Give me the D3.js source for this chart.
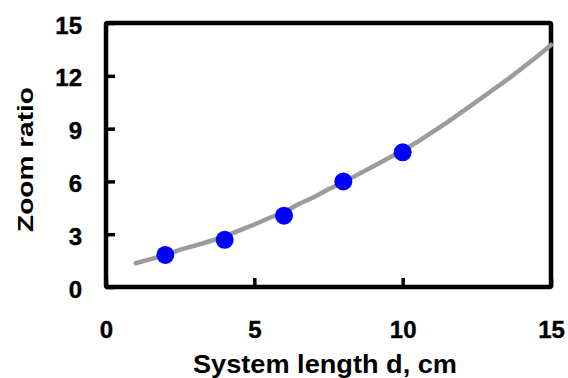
<!DOCTYPE html>
<html lang="en">
    <head>
        <meta charset="utf-8">
        <title>Zoom ratio vs system length</title>
        <script src="https://d3js.org/d3.v7.min.js"></script>
        <style>
            body {
                margin: 0;
                background: white;
            }
            text {
                font-family: Arial, "Liberation Sans", sans-serif;
                font-weight: bold;
                fill: black;
            }
            .axis path {
                display: none;
            }
            .axis line {
                stroke: black;
                stroke-width: 3.5;
            }
            .axis text {
                font-size: 24px;
                stroke: black;
                stroke-width: 0.4;
            }
            .curve {
                fill: none;
                stroke: #9b9b9b;
                stroke-width: 4.5;
                stroke-linejoin: round;
                stroke-linecap: round;
            }
        </style>
    </head>
    <body>
        <div id="chart"></div>
        <script type="text/javascript">
            // measured points (blue dots)
            var pointX = [2, 4, 6, 8, 10];
            var pointY = [1.82, 2.68, 4.05, 6.0, 7.65];

            // fitted curve (grey line)
            var curveX = [1, 1.5, 2, 2.5, 3, 3.5, 4, 4.5, 5, 5.5, 6, 6.5, 7, 7.5, 8, 8.5, 9, 9.5, 10,
                          10.5, 11, 11.5, 12, 12.5, 13, 13.5, 14, 14.5, 15];
            var curveY = [1.35, 1.58, 1.8, 2.12, 2.35, 2.6, 2.88, 3.22, 3.55, 3.92, 4.25, 4.72, 5.1, 5.55, 5.95, 6.4, 6.85, 7.3, 7.75,
                          8.25, 8.8, 9.35, 9.95, 10.55, 11.15, 11.75, 12.4, 13.05, 13.75];

            var xTicks = [0, 5, 10, 15];
            var yTicks = [0, 3, 6, 9, 12, 15];

            var w = 568;
            var h = 378;
            var margin = {top: 23, right: 17, bottom: 91, left: 106};

            var svg = d3.select("#chart").append("svg").attr("width", w).attr("height", h);

            var xScale = d3.scaleLinear().domain([0, 15]).range([margin.left, w - margin.right]);
            var yScale = d3.scaleLinear().domain([0, 15]).range([h - margin.bottom, margin.top]);

            // axes with inward ticks
            var xAxis = d3.axisBottom(xScale).tickValues(xTicks).tickSizeInner(-9).tickSizeOuter(0).tickPadding(34);
            var yAxis = d3.axisLeft(yScale).tickValues(yTicks).tickSizeInner(-9).tickSizeOuter(0).tickPadding(24);

            svg.append("g").attr("class", "axis").attr("transform", "translate(0," + yScale(0) + ")").call(xAxis);
            svg.append("g").attr("class", "axis").attr("transform", "translate(" + xScale(0) + ",0)").call(yAxis)
                .selectAll("text").attr("dy", "0.42em");

            // frame
            svg.append("rect")
                .attr("x", xScale(0)).attr("y", yScale(15))
                .attr("width", xScale(15) - xScale(0)).attr("height", yScale(0) - yScale(15))
                .attr("rx", 1.5)
                .style("fill", "none").style("stroke", "black").style("stroke-width", 4.5);

            // curve
            var line = d3.line()
                .x(function(d, i) { return xScale(curveX[i]); })
                .y(function(d) { return yScale(d); });
            svg.append("path").attr("class", "curve").attr("d", line(curveY));

            // points
            svg.selectAll("circle").data(pointY).enter()
                .append("circle")
                .attr("cx", function(d, i) { return xScale(pointX[i]); })
                .attr("cy", function(d) { return yScale(d); })
                .attr("r", 9)
                .style("fill", "#0000ff");

            // axis titles
            svg.append("text")
                .attr("x", 325).attr("y", 373)
                .attr("text-anchor", "middle")
                .attr("textLength", 264).attr("lengthAdjust", "spacingAndGlyphs")
                .style("font-size", "25px")
                .text("System length d, cm");

            svg.append("text")
                .attr("transform", "translate(33,159.5) rotate(-90)")
                .attr("text-anchor", "middle")
                .attr("textLength", 145).attr("lengthAdjust", "spacingAndGlyphs")
                .style("font-size", "22px")
                .text("Zoom ratio");
        </script>
    </body>
</html>
